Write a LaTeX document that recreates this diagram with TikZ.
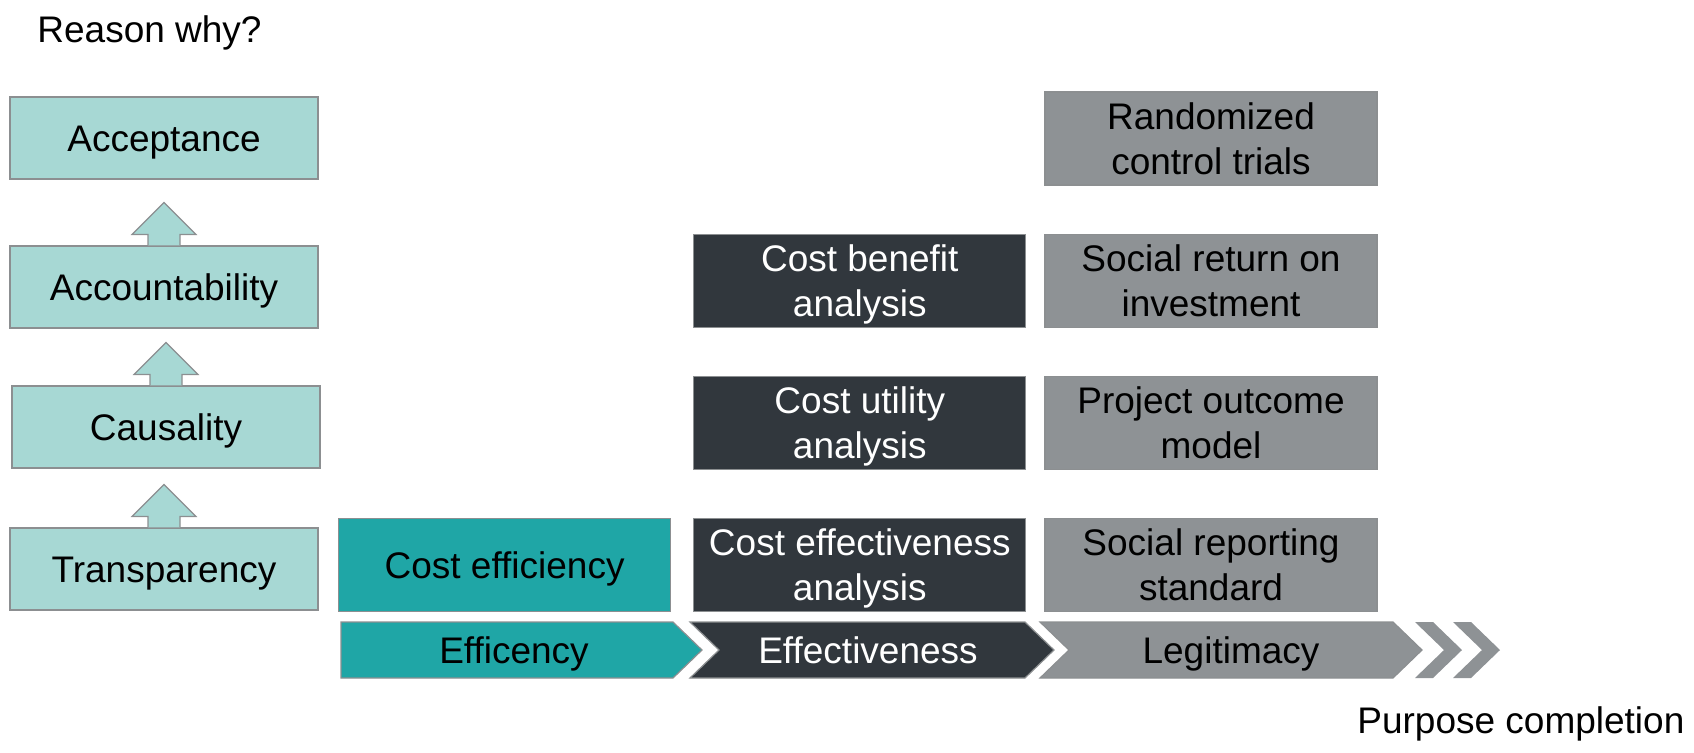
\documentclass[tikz,border=0pt]{standalone}
\usepackage{fontspec}
\setmainfont{Liberation Sans}
\usepackage{xcolor}
\usetikzlibrary{positioning, calc}

\definecolor{paleteal}{HTML}{A7D8D4}
\definecolor{deepteal}{HTML}{1FA6A6}
\definecolor{slate}{HTML}{31373D}
\definecolor{stone}{HTML}{8E9295}
\definecolor{rim}{HTML}{8C8F91}

\begin{document}
\begin{tikzpicture}[
    x=0.5pt, y=-0.5pt,
    txt/.style={font=\fontsize{18.5}{22.5}\selectfont},
    oneline/.style={text height=13.25pt, text depth=0pt},
    twoline/.style={text height=35.75pt, text depth=0pt},
    box/.style={rectangle, draw=rim, line width=0.6pt, txt, align=center, inner sep=0pt},
    reasonbox/.style={box, oneline, fill=paleteal, minimum width=154pt, minimum height=41pt},
    stepbox/.style={box, twoline, minimum width=166pt, minimum height=46.5pt},
    effbox/.style={stepbox, oneline, fill=deepteal},
    darkbox/.style={stepbox, fill=slate, text=white},
    greybox/.style={stepbox, fill=stone},
    uparrow/.style={fill=paleteal, draw=rim, line width=0.6pt},
    chevron/.style={draw=rim, line width=0.6pt}
]
\useasboundingbox (0,0) rectangle (1694,752);

% Reasons
\node[txt, anchor=base west, inner sep=0pt] (why) at (37,42) {Reason why?};
\node[reasonbox] (accept) at (164,138) {Acceptance};
\node[reasonbox] (account) at (164,287) {Accountability};
\node[reasonbox] (causal) at (166,427) {Causality};
\node[reasonbox] (transp) at (164,569) {Transparency};

% Up arrows between reasons
\foreach \lo in {transp, causal, account} {
  \filldraw[uparrow] ($(\lo.north)+(-16,0)$) -- ++(0,-11) -- ++(-16,0) -- ++(32,-32)
    -- ++(32,32) -- ++(-16,0) -- ++(0,11);
}

% Methods
\node[greybox] (report) at (1211,565) {Social reporting\\standard};
\node[greybox, above=24pt of report] (outcome) {Project outcome\\model};
\node[greybox, above=24pt of outcome] (sroi) {Social return on\\investment};
\node[greybox, above=24pt of sroi] (rct) {Randomized\\control trials};
\node[darkbox, left=9pt of report] (cea) {Cost effectiveness\\analysis};
\node[darkbox, left=9pt of outcome] (cua) {Cost utility\\analysis};
\node[darkbox, left=9pt of sroi] (cba) {Cost benefit\\analysis};
\node[effbox, left=11pt of cea] (costeff) {Cost efficiency};

% Process chevrons
\draw[chevron, fill=deepteal] (341,622) -- (673,622) -- (702,650) -- (673,678) -- (341,678) -- cycle;
\draw[chevron, fill=slate] (690,622) -- (1025,622) -- (1054,650) -- (1025,678) -- (690,678) -- (719,650) -- cycle;
\draw[chevron, fill=stone] (1040,622) -- (1393,622) -- (1422,650) -- (1393,678) -- (1040,678) -- (1069,650) -- cycle;
\foreach \x in {1415,1453} {
  \fill[stone] (\x,622) -- ++(18,0) -- ++(29,28) -- ++(-29,28) -- ++(-18,0) -- ++(29,-28) -- cycle;
}
\node[txt, oneline] (effic) at (514,650) {Efficency};
\node[txt, oneline, text=white] (effect) at (868,650) {Effectiveness};
\node[txt, oneline] (legit) at (1231,650) {Legitimacy};

\node[txt, anchor=base west, inner sep=0pt] (purpose) at (1357,733) {Purpose completion};

\end{tikzpicture}
\end{document}
